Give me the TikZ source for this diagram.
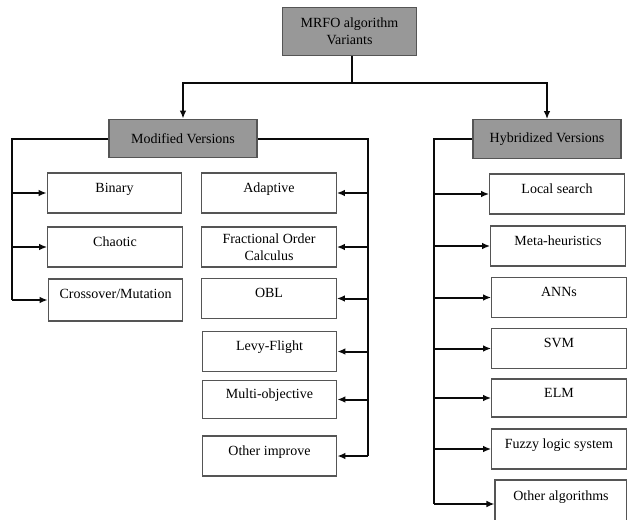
\documentclass[tikz,border=0pt]{standalone}
\usepackage{fontspec}
\newfontfamily\boxfont{Liberation Serif}
\usepackage{tikz}
\usetikzlibrary{arrows.meta, positioning, calc}
\definecolor{hdrgray}{RGB}{152,152,152}
\definecolor{edgegray}{RGB}{85,85,85}
\definecolor{mydark}{RGB}{10,10,10}
\tikzset{
  hdrbox/.style={rectangle, draw=edgegray, fill=hdrgray, align=center,
    minimum width=111pt, minimum height=29pt, inner sep=2pt,
    font=\boxfont\fontsize{10.5}{13}\selectfont, line width=0.9pt},
  leafbox/.style={rectangle, draw=edgegray, fill=white, align=center,
    minimum width=101pt, minimum height=30pt, inner sep=2pt,
    font=\boxfont\fontsize{10.5}{13}\selectfont, line width=0.8pt},
  leafup/.style={leafbox, text height=7.5pt, text depth=8.5pt},
  arrow/.style={-{Latex[length=6pt,width=5pt]}, line width=1.5pt, color=mydark},
  line/.style={line width=1.5pt, color=mydark}
}
\begin{document}
\begin{tikzpicture}[x=0.75pt, y=-0.75pt]
  \useasboundingbox (0,0) rectangle (627,519);
  % root and the two branches
  \node[hdrbox, minimum width=101pt, minimum height=36pt] (root) at (349.5,31.5) {MRFO algorithm\\Variants};
  \node[hdrbox] (modv) at (183,138.5) {Modified Versions};
  \node[hdrbox] (hybv) at (547,139) {Hybridized Versions};
  \coordinate (split) at (352,83);
  \draw[line] (root.south -| split) -- (split);
  \draw[arrow] (split) -| (modv.north);
  \draw[arrow] (split) -| (hybv.north);
  % modified versions, left column
  \node[leafup] (binary) at (114.5,193) {Binary};
  \node[leafup] (chaotic) at (115,247) {Chaotic};
  \node[leafup, minimum height=31.5pt, text depth=10pt] (crossmut) at (115.5,300) {Crossover/Mutation};
  % modified versions, middle column
  \node[leafup] (adaptive) at (269,193) {Adaptive};
  \node[leafbox] (foc) at (269,247) {Fractional Order\\Calculus};
  \node[leafup] (obl) at (269,298.5) {OBL};
  \node[leafup] (levy) at (269.5,351.5) {Levy-Flight};
  \node[leafup, minimum height=28pt] (multiobj) at (269.5,399.5) {Multi-objective};
  \node[leafup] (otherimp) at (269.5,456) {Other improve};
  % hybridized versions
  \node[leafup] (local) at (557,194) {Local search};
  \node[leafup] (metah) at (558,246) {Meta-heuristics};
  \node[leafup] (anns) at (559,297.5) {ANNs};
  \node[leafup] (svm) at (559,348.5) {SVM};
  \node[leafup, minimum height=28.5pt] (elm) at (559,398) {ELM};
  \node[leafup] (fuzzy) at (559,449) {Fuzzy logic system};
  \node[leafup, minimum width=99pt, minimum height=31.5pt] (otheralg) at (561,501) {Other algorithms};
  % buses
  \coordinate (lbus) at (12,0);
  \coordinate (mbus) at (368,0);
  \coordinate (hbus) at (434,0);
  \draw[line] (modv.west) -| (lbus |- crossmut.west);
  \foreach \n in {binary,chaotic,crossmut}
    \draw[arrow] (lbus |- \n.west) -- (\n.west);
  \draw[line] (modv.east) -| (mbus |- otherimp.east);
  \foreach \n in {adaptive,foc,obl,levy,multiobj,otherimp}
    \draw[arrow] (mbus |- \n.east) -- (\n.east);
  \draw[line] (hybv.west) -| ($(hbus |- otheralg.west)+(0,3)$);
  \foreach \n in {local,metah,anns,svm,elm,fuzzy}
    \draw[arrow] (hbus |- \n.west) -- (\n.west);
  \draw[arrow] ($(hbus |- otheralg.west)+(0,3)$) -- ($(otheralg.west)+(0,3)$);
\end{tikzpicture}
\end{document}
